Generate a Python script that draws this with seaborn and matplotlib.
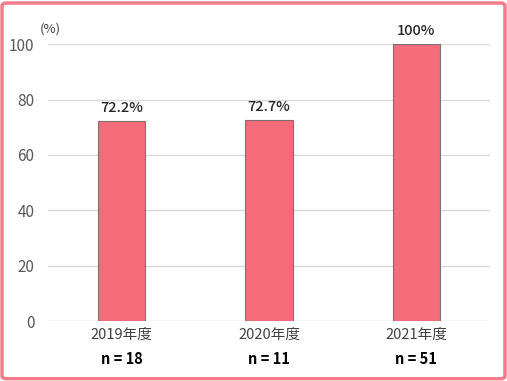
import matplotlib
matplotlib.use('Agg')
import matplotlib.pyplot as plt
import matplotlib.transforms as mtransforms
from matplotlib.patches import FancyBboxPatch
import seaborn as sns
import pandas as pd

# データ
years = ['2019年度', '2020年度', '2021年度']
rates = [72.2, 72.7, 100.0]
rate_labels = ['72.2%', '72.7%', '100%']
n_labels = ['n = 18', 'n = 11', 'n = 51']

df = pd.DataFrame({'year': years, 'rate': rates})

sns.set_style('white')
plt.rcParams['font.family'] = ['Noto Sans CJK JP', 'DejaVu Sans']

fig = plt.figure(figsize=(5.07, 3.81), dpi=100)
ax = fig.add_axes([0.095, 0.157, 0.871, 0.727])

sns.barplot(data=df, x='year', y='rate', color='#F46B7A', width=0.32,
            edgecolor='#7F6F70', linewidth=0.8, saturation=1, ax=ax, zorder=3)

ax.set_ylim(0, 100)
ax.set_yticks([0, 20, 40, 60, 80, 100])
ax.yaxis.grid(True, color='#D9D9D9', linewidth=1, zorder=0)
for s in ax.spines.values():
    s.set_visible(False)
ax.set_xlabel('')
ax.set_ylabel('')
ax.tick_params(axis='y', length=0, labelsize=11, labelcolor='#595959', pad=10)
ax.tick_params(axis='x', length=0, labelsize=10.5, labelcolor='#404040', pad=5)

# 棒の上のラベル
for i, (v, lab) in enumerate(zip(rates, rate_labels)):
    ax.annotate(lab, (i, v), xytext=(0, 4.5), textcoords='offset points',
                ha='center', va='bottom', fontsize=10.5, fontweight='medium',
                color='#262626')

# n 数ラベル
trans = mtransforms.blended_transform_factory(ax.transData, ax.transAxes)
for i, lab in enumerate(n_labels):
    ax.text(i, -0.135, lab, transform=trans, ha='center', va='center',
            fontsize=10.5, fontweight='bold', color='#000000')

fig.text(0.078, 0.925, '(%)', fontsize=9.5, color='#404040', ha='left', va='center')

# 外枠
border = FancyBboxPatch((0.004, 0.006), 0.992, 0.986, boxstyle='round,pad=0,rounding_size=0.008',
                        transform=fig.transFigure, facecolor='none',
                        edgecolor='#F47C8A', linewidth=2.5, zorder=10)
fig.patches.append(border)

fig.savefig('out.png', dpi=100)
